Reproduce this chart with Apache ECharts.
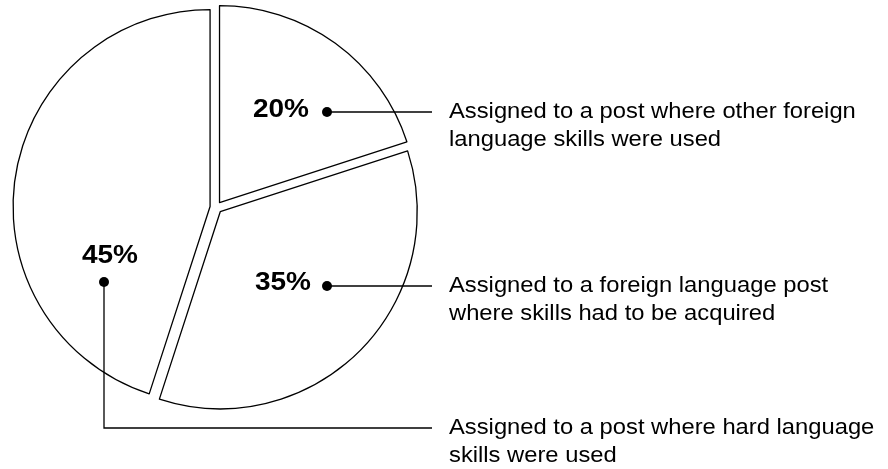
<!DOCTYPE html>
<html>
<head>
<meta charset="utf-8">
<script src="https://cdn.jsdelivr.net/npm/echarts@6/dist/echarts.min.js"></script>
<style>
html, body { margin: 0; padding: 0; background: #fff; }
#grf { width: 888px; height: 469px; }
</style>
</head>
<body>
<div id="grf"></div>
<script>
// Dados do grafico
var categorias = [
	'Assigned to a post where other foreign\nlanguage skills were used',
	'Assigned to a foreign language post\nwhere skills had to be acquired',
	'Assigned to a post where hard language\nskills were used'
];
var percentuais = [20, 35, 45];

var grafico = echarts.init(document.getElementById('grf'));

// Posicoes das anotacoes: ponto (inicio da linha), centro do texto da porcentagem, linha do texto
var pontos = [[327, 112], [327, 286], [104, 282]];
var centroPerc = [[281, 110], [283, 283], [110, 256]];
var linhaTexto = [112, 286, 428];
var fimLinha = 432;
var xTexto = 449;

var fonte = '"Liberation Sans", Arial, Helvetica, sans-serif';

var dados = [];
for (var i = 0; i < percentuais.length; i++) {
	dados.push({ name: categorias[i], value: percentuais[i], selected: true });
}

// Monta as anotacoes (porcentagem, ponto, linha de chamada e texto)
var elementos = [];
for (var j = 0; j < percentuais.length; j++) {
	var pt = pontos[j];
	var y = linhaTexto[j];
	var pts = (j === 2)
		? [[pt[0], pt[1]], [pt[0], y], [fimLinha, y]]
		: [[pt[0], pt[1]], [fimLinha, y]];

	elementos.push({
		type: 'polyline',
		shape: { points: pts },
		style: { stroke: '#000', lineWidth: 1.3, fill: null },
		z: 10
	});
	elementos.push({
		type: 'circle',
		shape: { cx: pt[0], cy: pt[1], r: 5 },
		style: { fill: '#000' },
		z: 11
	});
	elementos.push({
		type: 'text',
		x: centroPerc[j][0],
		y: centroPerc[j][1],
		scaleX: 1.12,
		style: {
			text: percentuais[j] + '%',
			x: 0, y: 0,
			align: 'center',
			verticalAlign: 'middle',
			font: 'bold 25px ' + fonte,
			fill: '#000'
		},
		z: 11
	});
	elementos.push({
		type: 'text',
		x: xTexto,
		y: y - 14,
		scaleX: 1.08,
		style: {
			text: categorias[j],
			x: 0, y: 0,
			align: 'left',
			verticalAlign: 'top',
			font: '22px ' + fonte,
			lineHeight: 28,
			fill: '#000'
		},
		z: 11
	});
}

var opcoes = {
	animation: false,
	backgroundColor: '#fff',
	graphic: elementos,
	series: [
		{
			type: 'pie',
			center: [216, 207.5],
			radius: 197,
			startAngle: 90,
			clockwise: true,
			selectedMode: 'multiple',
			selectedOffset: 6,
			silent: true,
			emphasis: { disabled: true },
			select: { itemStyle: { color: '#fff', borderColor: '#000', borderWidth: 1.3 } },
			itemStyle: { color: '#fff', borderColor: '#000', borderWidth: 1.3 },
			label: { show: false },
			labelLine: { show: false },
			data: dados
		}
	]
};

grafico.setOption(opcoes);
</script>
</body>
</html>
